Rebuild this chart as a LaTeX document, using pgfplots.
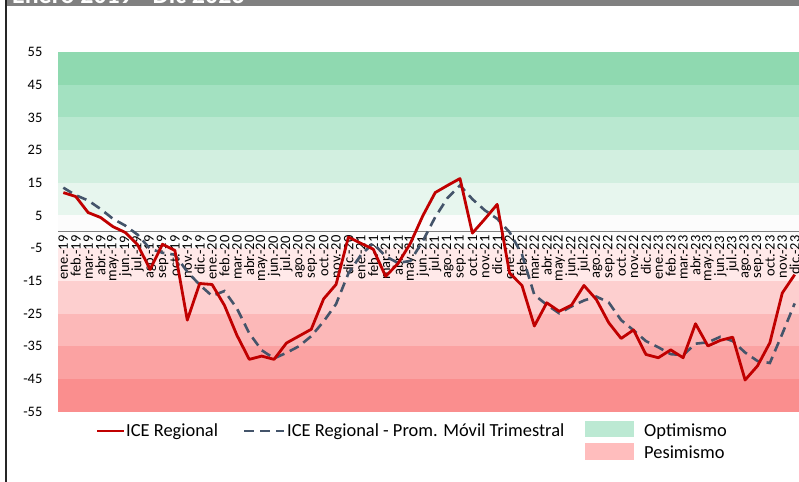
\documentclass[border=0pt]{standalone}
\usepackage{fontspec}
\setmainfont{Carlito}
\usepackage{pgfplots}
\usepackage{pgfplotstable}
\pgfplotsset{compat=1.18}
\definecolor{gA}{HTML}{E7F6EE}
\definecolor{gB}{HTML}{D2EFE0}
\definecolor{gC}{HTML}{B9E8D0}
\definecolor{gD}{HTML}{A3E1C1}
\definecolor{gE}{HTML}{8FD9B0}
\definecolor{pA}{HTML}{FFE9E9}
\definecolor{pB}{HTML}{FDCFCF}
\definecolor{pC}{HTML}{FCB8B8}
\definecolor{pD}{HTML}{FBA2A2}
\definecolor{pE}{HTML}{FA8E8E}
\definecolor{iceRed}{HTML}{C00000}
\definecolor{iceBlue}{HTML}{44546A}
\definecolor{legG}{HTML}{BCE9D3}
\definecolor{legP}{HTML}{FFBDBD}
\pgfplotstableread{
x red ma
0 12.0 13.5
1 10.8 11.2
2 5.9 9.6
3 4.4 7.0
4 1.6 4.0
5 -0.2 1.9
6 -4.0 -0.9
7 -11.5 -5.2
8 -3.8 -6.4
9 -5.7 -7.0
10 -27.0 -12.2
11 -15.8 -16.2
12 -16.1 -19.6
13 -22.5 -18.1
14 -31.6 -23.4
15 -39.0 -31.0
16 -38.0 -36.2
17 -39.0 -38.7
18 -34.0 -37.0
19 -31.9 -35.0
20 -29.8 -31.9
21 -20.5 -27.4
22 -16.1 -22.1
23 -1.6 -12.7
24 -3.5 -7.1
25 -5.3 -3.5
26 -13.6 -7.5
27 -9.7 -9.5
28 -3.5 -8.9
29 4.9 -2.8
30 12.0 4.5
31 14.2 10.4
32 16.3 14.2
33 -0.4 10.0
34 3.9 6.6
35 8.4 4.0
36 -12.6 -0.1
37 -16.4 -6.9
38 -28.8 -19.3
39 -21.7 -22.3
40 -24.3 -24.9
41 -22.4 -22.8
42 -16.4 -21.0
43 -20.7 -19.8
44 -27.8 -21.6
45 -32.6 -27.0
46 -30.0 -30.1
47 -37.5 -33.4
48 -38.5 -35.3
49 -36.1 -37.4
50 -38.5 -37.7
51 -28.1 -34.2
52 -34.9 -33.8
53 -33.2 -32.1
54 -32.2 -33.4
55 -45.3 -36.9
56 -41.0 -39.5
57 -33.9 -40.1
58 -18.7 -31.2
59 -13.1 -21.9
}\datatable
\begin{document}
\begin{tikzpicture}[x=1bp,y=1bp]
\useasboundingbox (0,0) rectangle (799,482);
\fill[white] (0,0) rectangle (799,482);
% header bar
\fill[black!50] (7,476) rectangle (799,482);
\begin{scope}
\clip (7,476) rectangle (799,482);
\node[anchor=base west, text=white, font=\bfseries\fontsize{26}{26}\selectfont, inner sep=0] at (12,478.5) {Enero 2019 - Dic 2023};
\end{scope}
\draw[black!85, line width=2bp] (6,0) -- (6,482);
\pgfplotsset{common/.style={
  at={(58bp,70.3bp)}, anchor=south west,
  scale only axis, width=741bp, height=359.7bp,
  xmin=-0.43, xmax=59.35, ymin=-55, ymax=55}}
% background bands
\begin{axis}[common, hide axis,
  band/.style={draw=none, fill=#1, forget plot}]
\addplot[band=gE] coordinates {(-1,45) (61,45) (61,55) (-1,55)} -- cycle;
\addplot[band=gD] coordinates {(-1,35) (61,35) (61,45) (-1,45)} -- cycle;
\addplot[band=gC] coordinates {(-1,25) (61,25) (61,35) (-1,35)} -- cycle;
\addplot[band=gB] coordinates {(-1,15) (61,15) (61,25) (-1,25)} -- cycle;
\addplot[band=gA] coordinates {(-1,5) (61,5) (61,15) (-1,15)} -- cycle;
\addplot[band=black!1] coordinates {(-1,-5) (61,-5) (61,5) (-1,5)} -- cycle;
\addplot[band=pA] coordinates {(-1,-15) (61,-15) (61,-5) (-1,-5)} -- cycle;
\addplot[band=pB] coordinates {(-1,-25) (61,-25) (61,-15) (-1,-15)} -- cycle;
\addplot[band=pC] coordinates {(-1,-35) (61,-35) (61,-25) (-1,-25)} -- cycle;
\addplot[band=pD] coordinates {(-1,-45) (61,-45) (61,-35) (-1,-35)} -- cycle;
\addplot[band=pE] coordinates {(-1,-55) (61,-55) (61,-45) (-1,-45)} -- cycle;
\addplot[black!50, line width=1bp, forget plot] coordinates {(-0.43,0) (59.35,0)};
\end{axis}
\begin{axis}[common,
  axis x line=middle, axis y line=left,
  axis line style={draw=none}, tick style={draw=none},
  ytick={-55,-45,...,55},
  xtick={0,...,59},
  xticklabels={ene.-19,feb.-19,mar.-19,abr.-19,may.-19,jun.-19,jul.-19,ago.-19,sep.-19,oct.-19,nov.-19,dic.-19,
  ene.-20,feb.-20,mar.-20,abr.-20,may.-20,jun.-20,jul.-20,ago.-20,sep.-20,oct.-20,nov.-20,dic.-20,
  ene.-21,feb.-21,mar.-21,abr.-21,may.-21,jun.-21,jul.-21,ago.-21,sep.-21,oct.-21,nov.-21,dic.-21,
  ene.-22,feb.-22,mar.-22,abr.-22,may.-22,jun.-22,jul.-22,ago.-22,sep.-22,oct.-22,nov.-22,dic.-22,
  ene.-23,feb.-23,mar.-23,abr.-23,may.-23,jun.-23,jul.-23,ago.-23,sep.-23,oct.-23,nov.-23,dic.-23},
  xticklabel style={rotate=90, anchor=east, font=\fontsize{14.5}{14.5}\selectfont, inner sep=1.5bp},
  yticklabel style={font=\fontsize{14.5}{14.5}\selectfont, xshift=-10bp},
  /pgf/number format/assume math mode=true,
]
\addplot[iceBlue, line width=2.6bp, dash pattern=on 10bp off 6bp] table[x=x, y=ma] {\datatable};
\addplot[iceRed, line width=2.8bp, line join=round] table[x=x, y=red] {\datatable};
\end{axis}
% legend
\draw[iceRed, line width=2.8bp] (97,51) -- (124,51);
\node[anchor=west, inner sep=0, font=\fontsize{18.5}{18.5}\selectfont] at (126,50.3) {ICE Regional};
\draw[iceBlue, line width=2.6bp, dash pattern=on 10bp off 6bp] (244,51) -- (284,51);
\node[anchor=west, inner sep=0, font=\fontsize{18.5}{18.5}\selectfont] at (287,50.3) {ICE Regional - Prom. Móvil Trimestral};
\fill[legG] (585,44.7) rectangle (634,61.3);
\node[anchor=west, inner sep=0, font=\fontsize{18.5}{18.5}\selectfont] at (644,50.3) {Optimismo};
\fill[legP] (585,22) rectangle (634,39);
\node[anchor=west, inner sep=0, font=\fontsize{18.5}{18.5}\selectfont] at (644,29.7) {Pesimismo};
\end{tikzpicture}
\end{document}
